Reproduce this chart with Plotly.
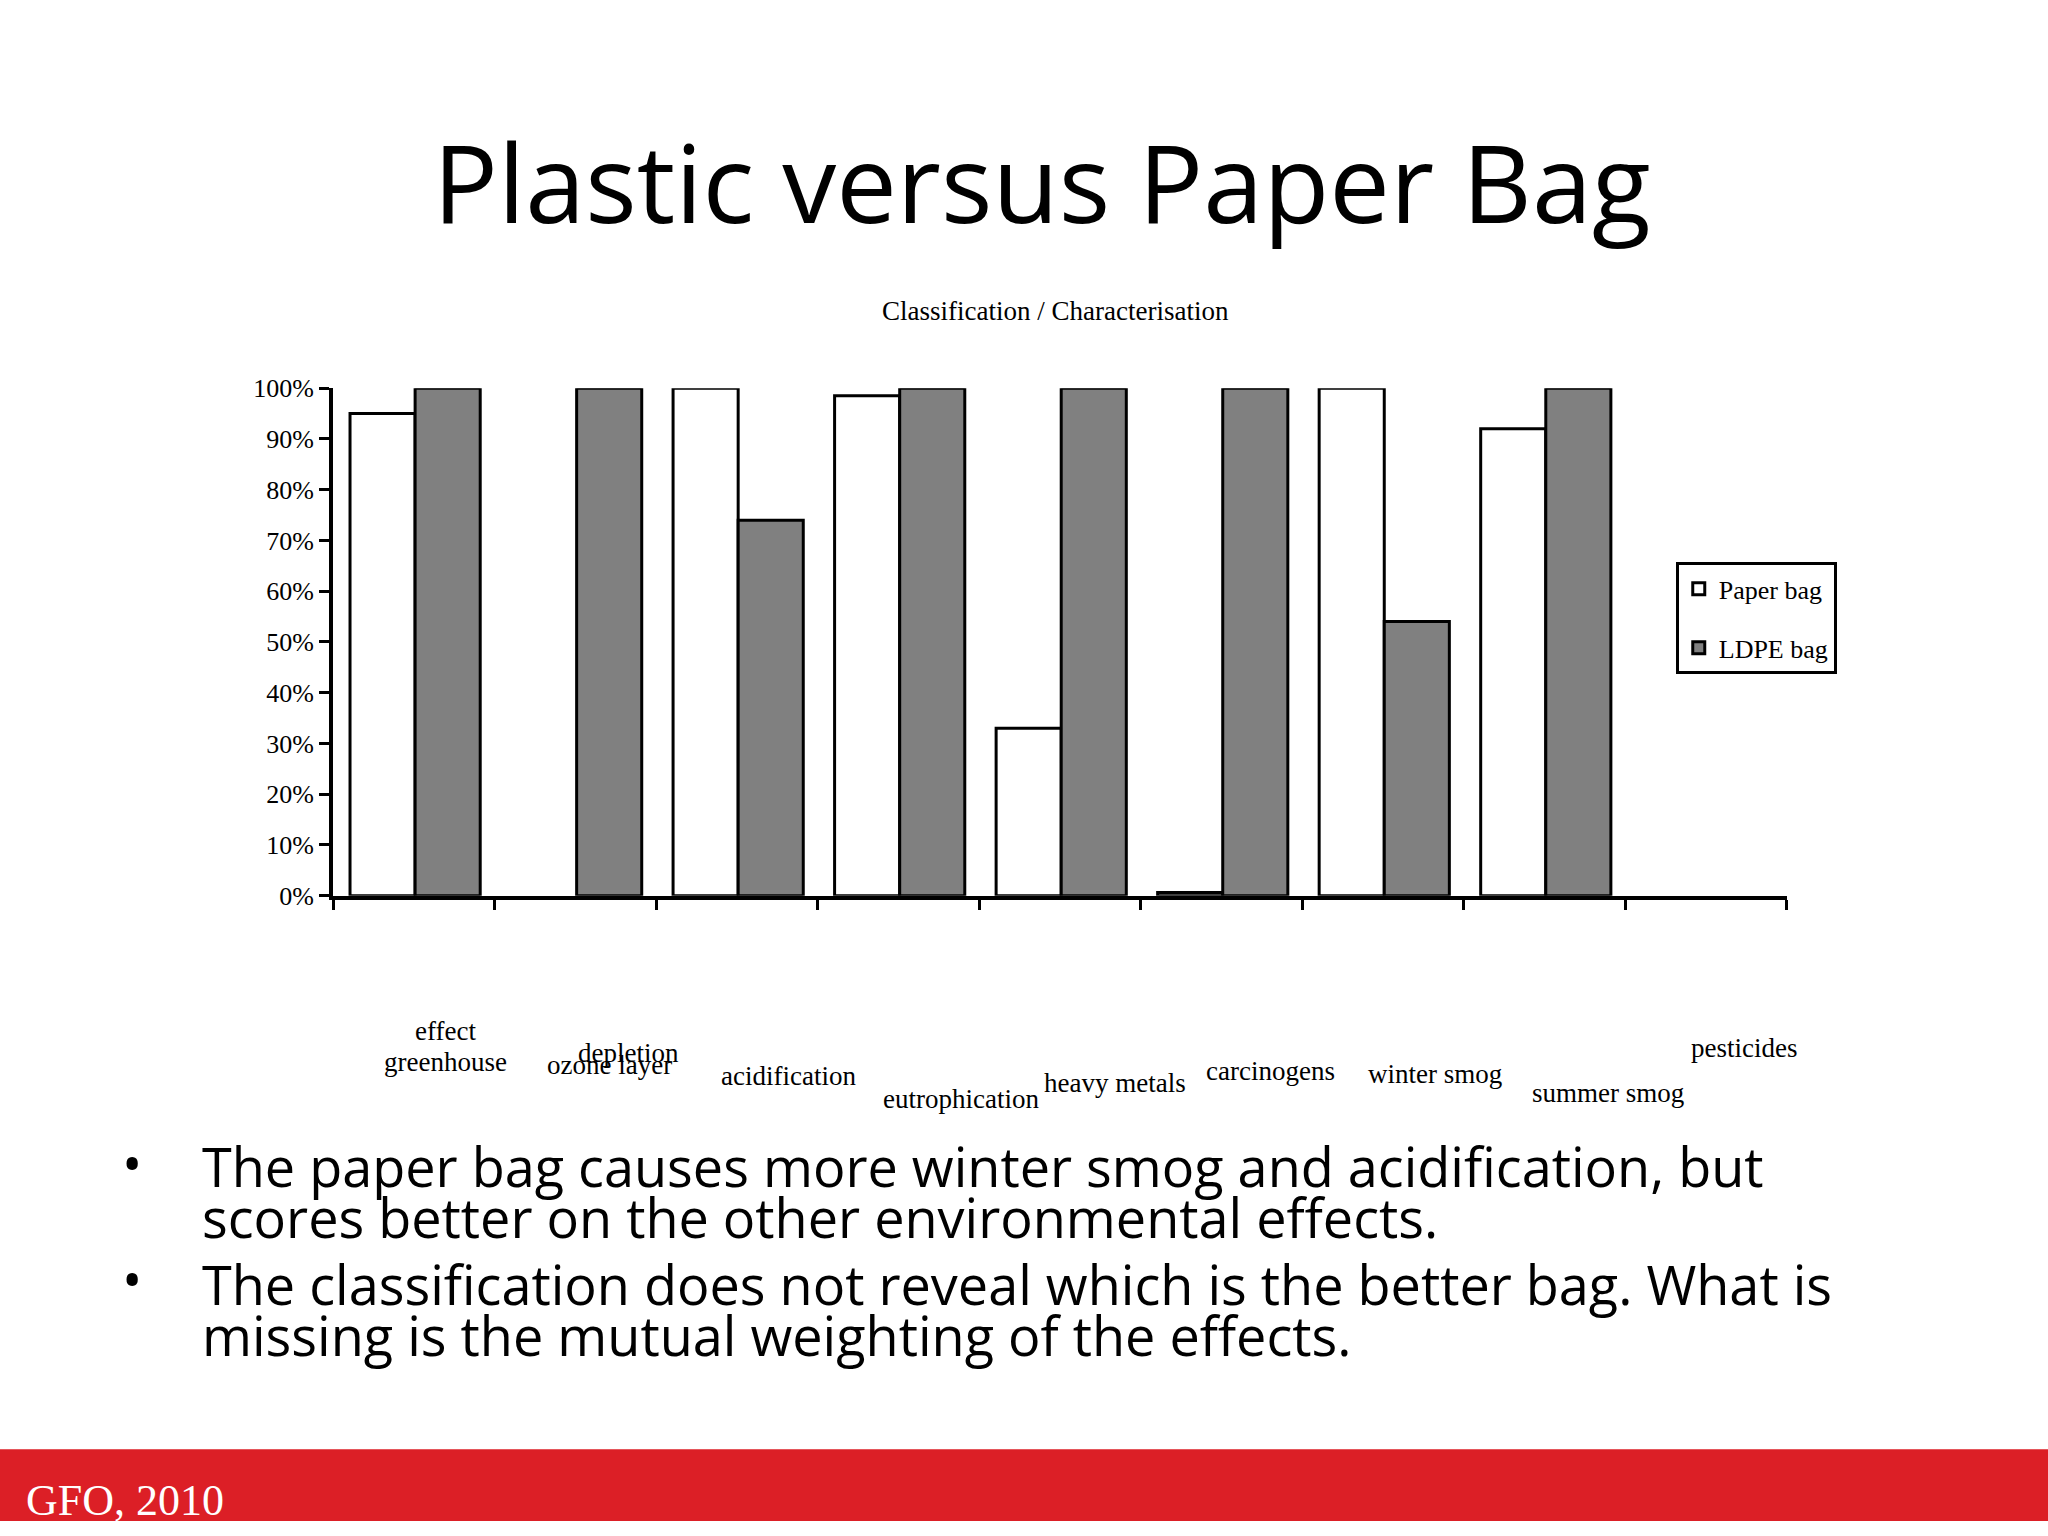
import plotly.graph_objects as go

categories = ["greenhouse effect", "ozone layer depletion", "acidification", "eutrophication",
              "heavy metals", "carcinogens", "winter smog", "summer smog", "pesticides"]
paper_bag = [95, None, 100, 98.5, 33, 0.6, 100, 92, None]
ldpe_bag = [100, 100, 74, 100, 100, 100, 54, 100, None]
yticks = [0, 10, 20, 30, 40, 50, 60, 70, 80, 90, 100]

W, H = 2048, 1536
S = 2048 / 1568
def px(x): return x * S / W
def py(y): return 1 - y * S / H

xs = list(range(len(categories)))
fig = go.Figure()
fig.add_bar(x=xs, y=paper_bag, offset=0.105, width=0.403, name="Paper bag", legendgroup="a",
            marker=dict(color="white", line=dict(color="black", width=3)))
fig.add_bar(x=xs, y=ldpe_bag, offset=0.508, width=0.403, name="LDPE bag", legendgroup="b",
            marker=dict(color="#808080", line=dict(color="black", width=3)))

ann = []
def A(t, x, y, size, family="Liberation Serif", color="black", xa="center"):
    ann.append(dict(text=t, x=px(x), y=py(y), xref="paper", yref="paper", showarrow=False,
                    xanchor=xa, yanchor="middle", font=dict(family=family, size=size, color=color)))

labels = [("effect", 341, 794), ("greenhouse", 341, 818), ("ozone layer", 467, 820), ("depletion", 481, 811),
          ("acidification", 604, 829), ("eutrophication", 736, 847), ("heavy metals", 854, 834),
          ("carcinogens", 973, 825), ("winter smog", 1099, 827), ("summer smog", 1231, 842),
          ("pesticides", 1335, 807)]
for t, x, y in labels:
    A(t, x, y, 27)
A("Plastic versus Paper Bag", 798, 131, 108, family="Open Sans")
A("Classification / Characterisation", 808, 232, 27)
lines = [("The paper bag causes more winter smog and acidification, but", 899),
         ("scores better on the other environmental effects.", 939),
         ("The classification does not reveal which is the better bag. What is", 991),
         ("missing is the mutual weighting of the effects.", 1031)]
for t, y in lines:
    A(t, 153, y, 54, family="Open Sans", xa="left")
A("•", 101, 897, 54, family="Open Sans")
A("•", 101, 987, 54, family="Open Sans")
A("GFO, 2010", 18, 1160, 44, color="white", xa="left")

fig.update_layout(
    width=W, height=H, margin=dict(l=0, r=0, t=0, b=0),
    plot_bgcolor="white", paper_bgcolor="white", barmode="overlay",
    showlegend=True,
    legend=dict(x=px(1283), y=py(428), xanchor="left", yanchor="top", bordercolor="black",
                borderwidth=3, font=dict(family="Liberation Serif", size=26, color="black"),
                itemwidth=30, tracegroupgap=22),
    xaxis=dict(domain=[px(255), px(1368)], range=[0, 9], tickvals=list(range(10)),
               showticklabels=False, ticks="outside", ticklen=10, tickwidth=3, tickcolor="black",
               showline=True, linecolor="black", linewidth=4, showgrid=False, zeroline=False),
    yaxis=dict(domain=[py(688), py(292)], range=[0, 100], tickvals=yticks,
               ticktext=[f"{v}%" for v in yticks], ticks="outside", ticklen=10, tickwidth=3,
               tickcolor="black", showline=True, linecolor="black", linewidth=4, showgrid=False,
               zeroline=False, tickfont=dict(family="Liberation Serif", size=26, color="black")),
    annotations=ann,
    shapes=[dict(type="rect", xref="paper", yref="paper", x0=0, x1=1, y0=0, y1=py(1120),
                 fillcolor="#DC1F26", line=dict(width=0), layer="below")],
)
fig.write_html("out.html", config={"displayModeBar": False},
               post_script="document.body.style.margin='0';document.body.style.overflow='hidden';")
